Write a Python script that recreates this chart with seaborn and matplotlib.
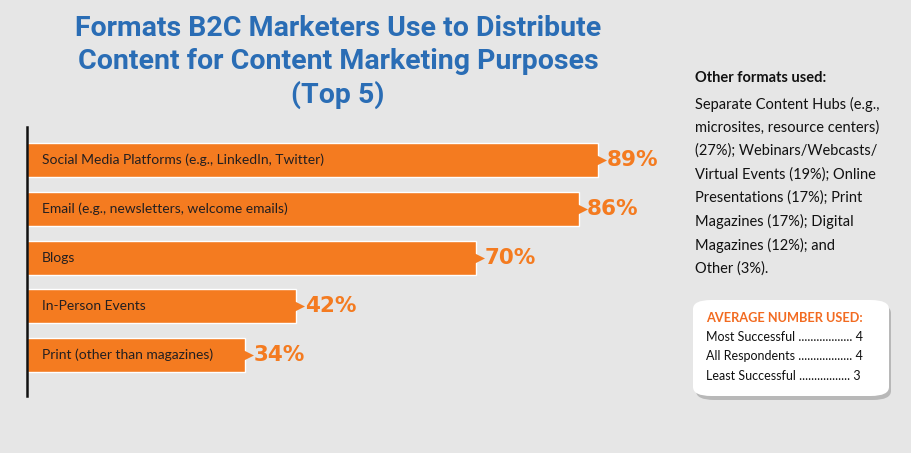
import matplotlib
matplotlib.use("Agg")
import matplotlib.pyplot as plt
import seaborn as sns
import pandas as pd
from matplotlib.patches import FancyBboxPatch

categories = [
    "Social Media Platforms (e.g., LinkedIn, Twitter)",
    "Email (e.g., newsletters, welcome emails)",
    "Blogs",
    "In-Person Events",
    "Print (other than magazines)",
]
values = [89, 86, 70, 42, 34]

other_lines = [
    "Separate Content Hubs (e.g.,",
    "microsites, resource centers)",
    "(27%); Webinars/Webcasts/",
    "Virtual Events (19%); Online",
    "Presentations (17%); Print",
    "Magazines (17%); Digital",
    "Magazines (12%); and",
    "Other (3%).",
]
avg_labels = ["Most Successful", "All Respondents", "Least Successful"]
avg_values = [4, 4, 3]

orange = "#f47b20"
blue = "#2a6db5"
bg = "#e6e6e6"

sns.set_theme(style="white")
plt.rcParams["font.family"] = ["Lato", "DejaVu Sans"]

df = pd.DataFrame({"format": categories, "pct": values})

fig = plt.figure(figsize=(9.12, 4.53), dpi=100, facecolor=bg)
ax = fig.add_axes([27 / 912, 1 - 396 / 453, 641.6 / 912, 269 / 453])
ax.set_facecolor(bg)

sns.barplot(data=df, x="pct", y="format", orient="h", color=orange,
            saturation=1, width=0.7, ax=ax)
ax.set_xlim(0, 100)
ax.set_ylim(4.84, -0.68)
ax.set_xticks([])
ax.set_yticks([])
ax.set_xlabel("")
ax.set_ylabel("")
for s in ["top", "right", "bottom"]:
    ax.spines[s].set_visible(False)
ax.spines["left"].set_color("#111111")
ax.spines["left"].set_linewidth(1.8)

# pointed tips and labels
ax.scatter(values, range(len(values)), marker=">", s=150, color=orange,
           linewidths=0, zorder=3)
for i, (c, v) in enumerate(zip(categories, values)):
    ax.text(2.3, i, c, va="center", ha="left", fontsize=10, color="#231f20")
    ax.text(v + 1.3, i, f"{v}%", va="center", ha="left", fontsize=15.5,
            fontweight="bold", color=orange, family=["DejaVu Sans"])

# title
title_lines = [
    "Formats B2C Marketers Use to Distribute",
    "Content for Content Marketing Purposes",
    "(Top 5)",
]
for k, line in enumerate(title_lines):
    fig.text(338 / 912, 1 - (28 + 33.5 * k) / 453, line, ha="center",
             va="center", fontsize=20.5, fontweight="bold", color=blue,
             family=["Roboto", "DejaVu Sans"])

# side notes
fig.text(695 / 912, 1 - 78 / 453, "Other formats used:", ha="left",
         va="center", fontsize=10.5, fontweight="bold", color="#111111")
for k, line in enumerate(other_lines):
    fig.text(695 / 912, 1 - (104 + 23.5 * k) / 453, line, ha="left",
             va="center", fontsize=10.5, color="#111111")

# average box with shadow
shadow = FancyBboxPatch((696 / 912, 1 - 400 / 453), 195 / 912, 96 / 453,
                        boxstyle="round,pad=0,rounding_size=0.02",
                        transform=fig.transFigure, facecolor="#9a9a9a",
                        edgecolor="none", alpha=0.6)
box = FancyBboxPatch((693 / 912, 1 - 396 / 453), 196 / 912, 96 / 453,
                     boxstyle="round,pad=0,rounding_size=0.02",
                     transform=fig.transFigure, facecolor="white",
                     edgecolor="none")
fig.patches.extend([shadow, box])
fig.text(706 / 912, 1 - 318 / 453, "AVERAGE NUMBER USED:", ha="left",
         va="center", fontsize=9.2, fontweight="bold", color="#f26b21")

renderer = fig.canvas.get_renderer()
for k, (lab, val) in enumerate(zip(avg_labels, avg_values)):
    y = 1 - (337 + 19.5 * k) / 453
    t = fig.text(706 / 912, y, lab + " ", ha="left", va="center",
                 fontsize=9, color="#111111")
    # dot leader up to the value column
    txt = lab + " "
    while True:
        t.set_text(txt + ".")
        if t.get_window_extent(renderer).x1 > 853:
            break
        txt += "."
    t.set_text(txt + " " + str(val))

fig.savefig("out.png", dpi=100, facecolor=bg)
